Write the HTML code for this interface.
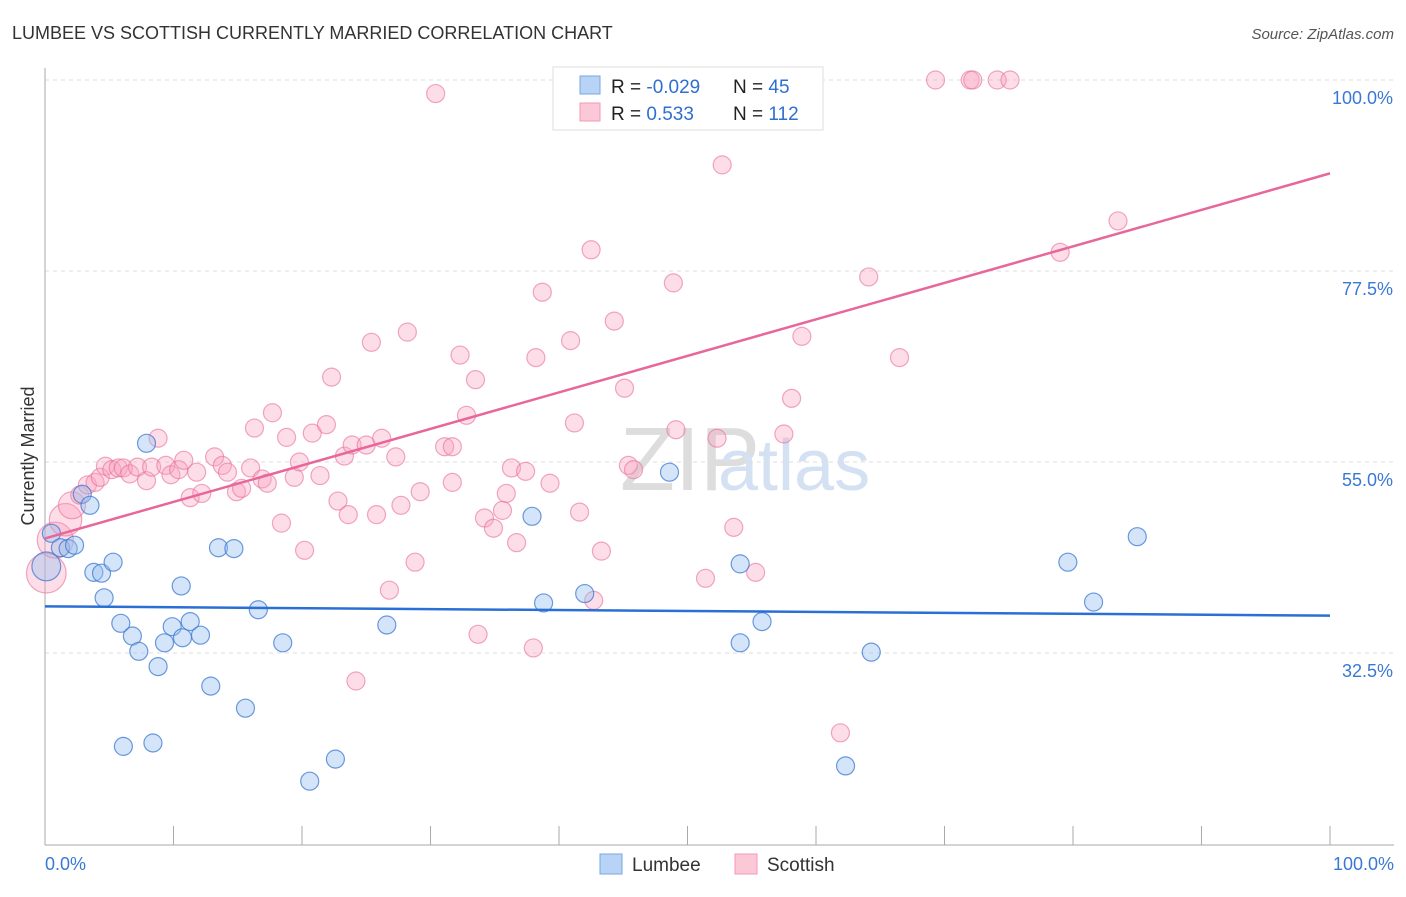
<!DOCTYPE html>
<html><head><meta charset="utf-8"><style>
body{margin:0;background:#fff;font-family:"Liberation Sans",sans-serif;}
svg text{font-family:"Liberation Sans",sans-serif;}
</style></head><body>
<svg id="chart" width="1406" height="892" xmlns="http://www.w3.org/2000/svg">
<text x="12" y="39" font-size="18" fill="#333">LUMBEE VS SCOTTISH CURRENTLY MARRIED CORRELATION CHART</text>
<text x="1394" y="39" font-size="15" fill="#555" text-anchor="end" font-style="italic">Source: ZipAtlas.com</text>
<text x="620" y="490" font-size="90" fill="#ddd" font-family="Liberation Serif">ZIP</text>
<text x="718" y="490" font-size="72" fill="#d3e1f3">atlas</text>
<g id="grid"></g>
<g id="axes"></g>
<g id="pts"></g>
<g id="trends"></g>
<text transform="translate(34,456) rotate(-90)" font-size="18" fill="#333" text-anchor="middle">Currently Married</text>
<g>
<rect x="553" y="67" width="270" height="63" fill="#fff" stroke="#ddd"/>
<rect x="580" y="76" width="20" height="18" fill="#b8d3f5" stroke="#7aa7e0"/>
<rect x="580" y="103" width="20" height="18" fill="#fcc8d8" stroke="#f09ab4"/>
<text x="611" y="93" font-size="19" fill="#222">R = <tspan fill="#2f6fcf">-0.029</tspan></text>
<text x="733" y="93" font-size="19" fill="#222">N = <tspan fill="#2f6fcf"> 45</tspan></text>
<text x="611" y="120" font-size="19" fill="#222">R = <tspan fill="#2f6fcf">  0.533</tspan></text>
<text x="733" y="120" font-size="19" fill="#222">N = <tspan fill="#2f6fcf">112</tspan></text>
</g>
<g>
<rect x="600" y="854" width="22" height="20" fill="#b8d3f5" stroke="#7aa7e0"/>
<text x="632" y="871" font-size="19" fill="#333">Lumbee</text>
<rect x="735" y="854" width="22" height="20" fill="#fcc8d8" stroke="#f09ab4"/>
<text x="767" y="871" font-size="19" fill="#333">Scottish</text>
</g>
</svg>
<script>
const yTicks=[100,77.5,55,32.5];
const yTickLabels=["100.0%","77.5%","55.0%","32.5%"];
const xLabels=["0.0%","100.0%"];
const lumbeeX=[0.5,1.2,1.8,2.3,2.9,3.5,3.8,4.4,4.6,5.3,5.9,6.1,6.8,7.3,7.9,8.4,8.8,9.3,9.9,10.6,10.7,11.3,12.1,12.9,13.5,14.7,15.6,16.6,18.5,20.6,22.6,26.6,37.9,38.8,42.0,48.6,54.1,54.1,55.8,62.3,64.3,79.6,81.6,85.0,0.1];
const lumbeeY=[46.6,44.9,44.8,45.2,51.2,49.9,42.0,41.9,39.0,43.2,36.0,21.5,34.5,32.7,57.2,21.9,30.9,33.7,35.6,40.4,34.3,36.2,34.6,28.6,44.9,44.8,26.0,37.6,33.7,17.4,20.0,35.8,48.6,38.4,39.5,53.8,43.0,33.7,36.2,19.2,32.6,43.2,38.5,46.2,42.7];
const lumbeeSize=[1,1,1,1,1,1,1,1,1,1,1,1,1,1,1,1,1,1,1,1,1,1,1,1,1,1,1,1,1,1,1,1,1,1,1,1,1,1,1,1,1,1,1,1,1.6];
const scotX=[0.1,0.8,1.6,2.1,2.7,3.3,3.9,4.3,4.7,5.2,5.7,6.1,6.6,7.2,7.9,8.3,8.8,9.4,9.8,10.4,10.8,11.3,11.8,12.2,13.2,13.8,14.2,14.9,15.3,16.0,16.3,16.9,17.3,17.7,18.4,18.8,19.4,19.8,20.2,20.8,21.4,21.9,22.3,22.8,23.3,23.9,23.6,25.0,25.4,25.8,26.2,26.8,27.3,27.7,28.2,28.8,29.2,30.4,31.1,31.7,31.7,32.3,32.8,33.5,33.7,34.2,34.9,35.6,35.9,36.3,36.7,37.4,38.0,38.2,38.7,39.3,40.9,41.2,41.6,42.5,42.7,43.3,44.3,45.1,45.4,45.8,47.3,48.9,49.1,51.9,52.3,52.7,53.6,51.4,55.3,57.5,58.1,58.9,61.9,64.1,66.5,69.3,72.0,72.2,74.1,75.1,79.0,83.5,24.2];
const scotY=[41.9,45.8,48.2,49.9,51.1,52.3,52.6,53.2,54.5,54.1,54.3,54.3,53.6,54.4,52.8,54.4,57.8,54.6,53.5,54.1,55.2,50.8,53.8,51.3,55.6,54.6,53.8,51.5,51.9,54.3,59.0,53.0,52.5,60.8,47.8,57.9,53.2,55.0,44.6,58.4,53.4,59.4,65.0,50.4,55.7,57.0,48.8,57.0,69.1,48.8,57.8,39.9,55.6,49.9,70.3,43.2,51.5,98.4,56.8,56.8,52.6,67.6,60.5,64.7,34.7,48.4,47.2,49.3,51.3,54.3,45.5,53.9,33.1,67.3,75.0,52.5,69.3,59.6,49.1,80.0,38.7,44.5,71.6,63.7,54.6,54.1,97.4,76.1,58.8,100,57.8,90.0,47.3,41.3,42.0,58.3,62.5,69.8,23.1,76.8,67.3,100,100,100,100,100,79.7,83.4,29.2];
const scotSize=[2.2,2.0,1.8,1.5];
const lumbeeTrend=[38.0,36.9];
const scotTrend=[46.0,89.0];
const X=v=>45+v*12.85, Y=v=>80+(100-v)*8.489;
const NS="http://www.w3.org/2000/svg";
function mk(t,a,p){const e=document.createElementNS(NS,t);for(const k in a)e.setAttribute(k,a[k]);p.appendChild(e);return e;}
const grid=document.getElementById('grid'),axes=document.getElementById('axes'),pts=document.getElementById('pts'),tr=document.getElementById('trends');
yTicks.forEach((t,i)=>{
 const l=mk('line',{x1:45,x2:1394,y1:Y(t),y2:Y(t),stroke:'#ddd','stroke-dasharray':'4,4'},grid);
 
 
 const tx=mk('text',{x:1393,y:Y(t)+24,'font-size':18,fill:'#3a78d6','text-anchor':'end'},grid);
 tx.textContent=yTickLabels[i];
 
 
});
const ax=mk('line',{x1:45,x2:45,y1:68,y2:845,stroke:'#aaa'},axes);


const bx=mk('line',{x1:45,x2:1394,y1:845,y2:845,stroke:'#aaa'},axes);


for(let i=0;i<=10;i++){const t=mk('line',{x1:X(i*10),x2:X(i*10),y1:826,y2:845,stroke:'#aaa'},axes);
 
 }
[[0,'start',45],[100,'end',1394]].forEach((d,i)=>{const t=mk('text',{x:d[2],y:870,'font-size':18,fill:'#3a78d6','text-anchor':d[1]},axes);t.textContent=xLabels[i];
 
 });
scotX.forEach((x,i)=>{const c=mk('circle',{cx:X(x),cy:Y(scotY[i]),r:9*(scotSize[i]||1),fill:'rgba(248,160,190,0.35)',stroke:'rgba(232,110,150,0.6)','stroke-width':1.2},pts);
 
 });
lumbeeX.forEach((x,i)=>{const c=mk('circle',{cx:X(x),cy:Y(lumbeeY[i]),r:9*lumbeeSize[i],fill:'rgba(150,190,240,0.4)',stroke:'rgba(60,120,210,0.75)','stroke-width':1.2},pts);
 
 });
const t1=mk('line',{x1:X(0),x2:X(100),y1:Y(lumbeeTrend[0]),y2:Y(lumbeeTrend[1]),stroke:'#2a6fd6','stroke-width':2.5},tr);


const t2=mk('line',{x1:X(0),x2:X(100),y1:Y(scotTrend[0]),y2:Y(scotTrend[1]),stroke:'#e8679a','stroke-width':2.5},tr);


</script>
</body></html>
